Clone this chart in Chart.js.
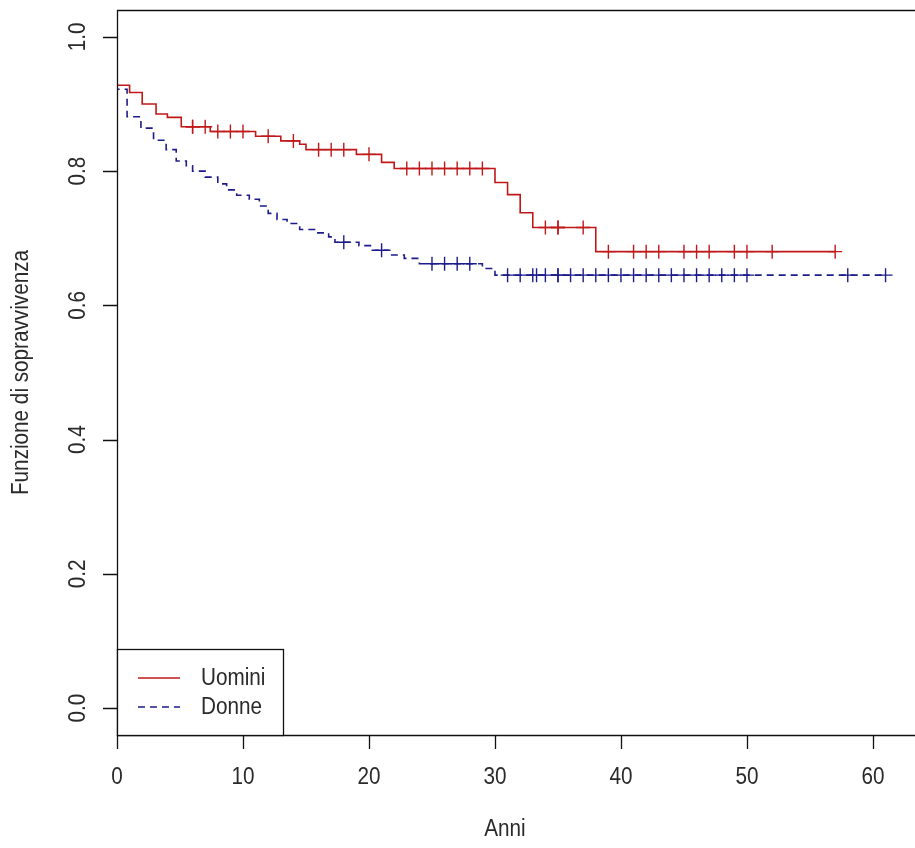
<!DOCTYPE html>
<html><head><meta charset="utf-8">
<script src="https://cdn.jsdelivr.net/npm/chart.js@4.4.0/dist/chart.umd.min.js"></script>
<style>html,body{margin:0;padding:0;background:#fff;overflow:hidden}#wrap{width:915px;height:848px;position:relative}</style>
</head><body><div id="wrap"><canvas id="c" width="915" height="848"></canvas></div>
<script>
// Kaplan-Meier curves (time in years, survival)
const maleTimes = [0, 0, 1, 2, 3.1, 4, 5.1, 7.4, 11, 13, 14.5, 15, 19, 21, 22, 30, 31, 32, 33, 38, 57];
const maleSurv  = [1, 0.928, 0.917, 0.900, 0.885, 0.880, 0.866, 0.859, 0.852, 0.845, 0.840, 0.832, 0.825, 0.813, 0.804, 0.783, 0.765, 0.738, 0.716, 0.680, 0.680];
const maleCensor = [6, 6, 7, 8, 9, 10, 12, 14, 16, 17, 18, 20, 23, 24, 25, 26, 27, 28, 29, 34, 35, 35, 37, 39, 41, 42, 43, 45, 46, 47, 49, 50, 52, 57];

const femaleTimes = [0, 0, 0.8, 1.9, 2.9, 3.9, 4.7, 5.5, 6, 7, 8, 8.7, 9.5, 10.5, 11.3, 12, 12.7, 13.5, 14.5, 15.8, 16.8, 17.3, 19.2, 20.2, 21.8, 22.8, 24, 29, 30, 61];
const femaleSurv  = [1, 0.922, 0.881, 0.864, 0.846, 0.832, 0.815, 0.808, 0.800, 0.791, 0.781, 0.772, 0.764, 0.758, 0.748, 0.737, 0.728, 0.722, 0.713, 0.708, 0.702, 0.694, 0.689, 0.682, 0.675, 0.670, 0.662, 0.655, 0.645, 0.645];
const femaleCensor = [18, 21, 25, 26, 27, 28, 31, 32, 33, 33.3, 34, 35, 35, 36, 37, 38, 39, 40, 41, 42, 43, 44, 45, 46, 47, 48, 49, 50, 58, 61];

const xTicks = [0, 10, 20, 30, 40, 50, 60];
const yTicks = [0.0, 0.2, 0.4, 0.6, 0.8, 1.0];
const seriesNames = ['Uomini', 'Donne'];
const xTitle = 'Anni';
const yTitle = 'Funzione di sopravvivenza';

const RED = '#c01818', BLUE = '#1c1c8a', TXT = '#2a2a2a';
const FONT = '"Liberation Sans", Arial, sans-serif';
const FS = 23, SX = 0.9;

function pts(t, s) { return t.map((v, i) => ({x: v, y: s[i]})); }
function survAt(t, times, surv) {
  let v = surv[0];
  for (let i = 0; i < times.length; i++) if (times[i] <= t) v = surv[i];
  return v;
}
function censorPts(c, times, surv) { return c.map(t => ({x: t, y: survAt(t, times, surv)})); }

function txt(ctx, s, x, y, rot, align) {
  ctx.save();
  ctx.translate(x, y);
  if (rot) ctx.rotate(rot);
  ctx.scale(SX, 1);
  ctx.font = FS + 'px ' + FONT;
  ctx.fillStyle = TXT;
  ctx.textAlign = align || 'center';
  ctx.textBaseline = 'middle';
  ctx.fillText(s, 0, 0);
  ctx.restore();
}

const frame = {
  id: 'frame',
  afterDraw(chart) {
    const ctx = chart.ctx, a = chart.chartArea;
    const xs = chart.scales.x, ys = chart.scales.y;
    ctx.save();
    ctx.strokeStyle = '#111';
    ctx.lineWidth = 1.3;
    ctx.beginPath();
    ctx.rect(a.left + 0.5, a.top + 0.5, a.right - a.left + 10, a.bottom - a.top);
    ctx.stroke();
    ctx.beginPath();
    xTicks.forEach(v => { const p = Math.round(xs.getPixelForValue(v)) + 0.5; ctx.moveTo(p, a.bottom); ctx.lineTo(p, a.bottom + 14); });
    yTicks.forEach(v => { const p = Math.round(ys.getPixelForValue(v)) + 0.5; ctx.moveTo(a.left, p); ctx.lineTo(a.left - 14, p); });
    ctx.stroke();
    xTicks.forEach(v => txt(ctx, String(v), xs.getPixelForValue(v), a.bottom + 43, 0));
    yTicks.forEach(v => txt(ctx, v.toFixed(1), a.left - 38, ys.getPixelForValue(v), -Math.PI / 2));
    txt(ctx, xTitle, 505, a.bottom + 95, 0);
    txt(ctx, yTitle, 22, (a.top + a.bottom) / 2, -Math.PI / 2);
    // legend
    const lx = a.left, ly = 649, lw = 166;
    ctx.fillStyle = '#fff';
    ctx.fillRect(lx + 1, ly + 1, lw - 1, a.bottom - ly - 1);
    ctx.strokeStyle = '#111';
    ctx.lineWidth = 1.3;
    ctx.strokeRect(lx + 0.5, ly + 0.5, lw, a.bottom - ly);
    const ds = chart.data.datasets;
    [[0, 678], [1, 707]].forEach(([i, yy]) => {
      ctx.save();
      ctx.strokeStyle = ds[i].borderColor;
      ctx.lineWidth = 1.6;
      ctx.setLineDash(ds[i].borderDash || []);
      ctx.beginPath(); ctx.moveTo(lx + 21, yy); ctx.lineTo(lx + 63, yy); ctx.stroke();
      ctx.restore();
      txt(ctx, seriesNames[i], lx + 84, yy + 1, 0, 'left');
    });
    ctx.restore();
  }
};

new Chart(document.getElementById('c'), {
  type: 'line',
  data: {
    datasets: [
      { label: seriesNames[0], data: pts(maleTimes, maleSurv), borderColor: RED, borderWidth: 1.6, stepped: true, pointRadius: 0, fill: false },
      { label: seriesNames[1], data: pts(femaleTimes, femaleSurv), borderColor: BLUE, borderWidth: 1.6, borderDash: [7, 5], stepped: true, pointRadius: 0, fill: false },
      { label: 'c1', data: censorPts(maleCensor, maleTimes, maleSurv), showLine: false, pointStyle: 'cross', pointRadius: 7, pointBorderWidth: 1.4, pointBorderColor: RED, borderColor: RED },
      { label: 'c2', data: censorPts(femaleCensor, femaleTimes, femaleSurv), showLine: false, pointStyle: 'cross', pointRadius: 7, pointBorderWidth: 1.4, pointBorderColor: BLUE, borderColor: BLUE }
    ]
  },
  options: {
    responsive: false,
    animation: false,
    layout: { padding: { left: 117, top: 10, right: 0, bottom: 113 } },
    plugins: { legend: { display: false }, tooltip: { enabled: false } },
    scales: {
      x: { type: 'linear', display: false, min: 0, max: (915 - 117) / ((881 - 117) / 60) },
      y: { type: 'linear', display: false, min: -0.04, max: 1.04 }
    }
  },
  plugins: [frame]
});
</script></body></html>
